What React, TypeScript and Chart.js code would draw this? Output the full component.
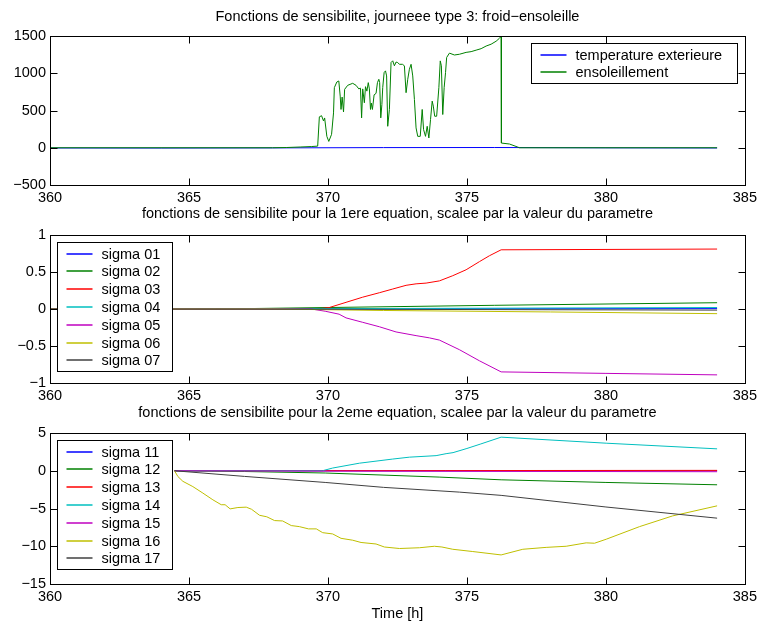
import React, { useEffect, useRef } from 'react';
import { Chart, registerables } from 'chart.js';
Chart.register(...registerables);

// ---------- Data ----------
const X_MIN = 360;
const X_MAX = 385;

// Top: outdoor temperature & solar radiation
const tempT = [360, 364, 368, 372, 376, 380, 384];
const tempV = [-3, -4, -2, 2, 3, -1, -3];

const ensT = [360, 368.0, 368.5, 369.0, 369.4, 369.63, 369.69, 369.77, 369.84, 369.88, 369.96, 370.03, 370.13, 370.2, 370.23, 370.32, 370.39, 370.44, 370.47, 370.51, 370.56, 370.6, 370.71, 370.89, 371.01, 371.11, 371.17, 371.21, 371.25, 371.31, 371.35, 371.4, 371.45, 371.49, 371.53, 371.56, 371.6, 371.66, 371.73, 371.78, 371.83, 371.86, 371.9, 371.94, 371.97, 372.02, 372.07, 372.11, 372.15, 372.21, 372.27, 372.33, 372.39, 372.45, 372.51, 372.57, 372.68, 372.75, 372.81, 372.87, 372.93, 372.99, 373.05, 373.11, 373.17, 373.23, 373.32, 373.39, 373.44, 373.51, 373.57, 373.63, 373.69, 373.75, 373.79, 373.84, 373.91, 373.99, 374.04, 374.08, 374.13, 374.18, 374.23, 374.27, 374.37, 374.55, 374.73, 374.97, 375.15, 375.33, 375.51, 375.69, 375.87, 376.05, 376.17, 376.23, 376.24, 376.53, 376.83, 376.89, 384];
const ensV = [0, 0, 3, 10, 16, 22, 415, 430, 360, 400, 153, 85, 180, 468, 807, 883, 896, 693, 514, 680, 480, 784, 838, 865, 838, 790, 800, 401, 790, 604, 820, 760, 874, 790, 514, 600, 514, 710, 730, 874, 919, 874, 401, 580, 807, 1009, 1032, 964, 288, 514, 1144, 1167, 1100, 1150, 1144, 1120, 1120, 1100, 739, 919, 1054, 1120, 964, 648, 266, 153, 153, 514, 243, 153, 288, 131, 378, 626, 559, 423, 423, 807, 1166, 1100, 446, 807, 1009, 1212, 1270, 1245, 1255, 1280, 1290, 1310, 1330, 1365, 1390, 1430, 1470, 1495, 63, 50, 9, 0, 0];

// Middle: sensitivities, equation 1
const s01T = [360, 370, 384];
const s01V = [0, 0.002, 0.005];
const s02T = [360, 366, 370, 376, 384];
const s02V = [0, 0, 0.02, 0.05, 0.085];
const s03T = [360, 369.6, 370.05, 370.65, 371.25, 371.85, 372.33, 372.81, 373.17, 373.53, 374.01, 374.49, 374.97, 375.45, 375.81, 376.23, 384];
const s03V = [0, 0, 0.02, 0.09, 0.16, 0.22, 0.27, 0.32, 0.34, 0.35, 0.38, 0.45, 0.53, 0.64, 0.72, 0.8, 0.81];
const s04T = [360, 370, 384];
const s04V = [0, 0.005, 0.02];
const s05T = [360, 369.4, 369.9, 370.4, 370.65, 371.25, 371.85, 372.45, 373.17, 373.65, 374.01, 374.73, 375.45, 376.23, 380, 384];
const s05V = [0, 0, -0.03, -0.07, -0.12, -0.18, -0.24, -0.31, -0.36, -0.39, -0.42, -0.55, -0.7, -0.85, -0.87, -0.89];
const s06T = [360, 368, 372, 378, 384];
const s06V = [0, 0, -0.02, -0.04, -0.063];
const s07T = [360, 370, 384];
const s07V = [0, -0.003, -0.015];

// Bottom: sensitivities, equation 2
const s11T = [364.48, 384];
const s11V = [0, 0];
const s12T = [364.48, 367, 369.9, 374, 376.23, 380, 384];
const s12V = [0, -0.1, -0.3, -0.84, -1.2, -1.55, -1.86];
const s13T = [364.48, 384];
const s13V = [0, 0.05];
const s14T = [364.48, 369.8, 370.17, 371.13, 372.33, 372.93, 373.89, 374.25, 374.5, 375.0, 375.5, 376.23, 380.01, 384];
const s14V = [0, 0, 0.36, 1.0, 1.55, 1.8, 2.0, 2.26, 2.4, 2.95, 3.55, 4.45, 3.65, 2.9];
const s15T = [364.48, 370, 384];
const s15V = [0, -0.05, -0.13];
const s16T = [364.48, 364.6, 364.78, 365.14, 365.5, 365.86, 366.16, 366.3, 366.48, 366.76, 367.06, 367.25, 367.54, 367.8, 368.08, 368.37, 368.68, 368.97, 369.3, 369.58, 369.81, 370.17, 370.47, 370.89, 371.19, 371.73, 372.03, 372.57, 373.29, 373.83, 374.1, 374.49, 375.21, 376.23, 377.01, 377.85, 378.57, 379.29, 379.59, 380.01, 381.21, 382.4, 384];
const s16V = [0, -0.76, -1.4, -2.1, -2.96, -3.85, -4.5, -4.5, -5.05, -4.87, -4.82, -5.1, -5.9, -6.1, -6.6, -6.65, -7.26, -7.4, -7.7, -7.7, -8.2, -8.37, -8.95, -9.2, -9.5, -9.7, -10.1, -10.3, -10.2, -10.0, -10.1, -10.4, -10.7, -11.15, -10.4, -10.15, -10.0, -9.55, -9.6, -9.07, -7.4, -5.98, -4.65];
const s17T = [364.48, 367, 369.9, 372, 374.73, 376.23, 380, 384];
const s17V = [0, -0.75, -1.55, -2.2, -2.83, -3.26, -4.8, -6.28];

// ---------- Style ----------
const COLORS = ['#0000ff', '#008000', '#ff0000', '#00bfbf', '#bf00bf', '#bfbf00', '#404040'];
const FONT_FAMILY = '"Liberation Sans", Arial, Helvetica, sans-serif';
const FONT_SIZE = 14.5;
const FONT = `${FONT_SIZE}px ${FONT_FAMILY}`;

const pts = (t: number[], v: number[]) => t.map((x, i) => ({ x, y: v[i] }));

const fmt = (v: number) => String(Math.round(v * 1000) / 1000).replace('-', '\u2212');

const matlabPlugin = {
  id: 'matlab',
  afterDraw(chart: any) {
    const o = chart.options.plugins.matlab;
    if (!o) return;
    const ctx = chart.ctx;
    const a = chart.chartArea;
    const L = Math.round(a.left) + 0.5;
    const R = Math.round(a.right) + 0.5;
    const T = Math.round(a.top) + 0.5;
    const B = Math.round(a.bottom) + 0.5;
    ctx.save();
    // legend
    const lg = o.legend;
    const items: { label: string; color: string }[] = lg.items;
    const rowH = 17.8;
    const h = Math.round(22 + (items.length - 1) * rowH);
    const lx = Math.round(lg.side === 'right' ? a.right - 8 - lg.width : a.left + 7) + 0.5;
    const ly = Math.round(a.top + 7) + 0.5;
    ctx.fillStyle = '#ffffff';
    ctx.fillRect(lx, ly, lg.width, h);
    ctx.strokeStyle = '#000000';
    ctx.lineWidth = 1;
    ctx.strokeRect(lx, ly, lg.width, h);
    ctx.font = FONT;
    ctx.textAlign = 'left';
    ctx.textBaseline = 'middle';
    items.forEach((it, i) => {
      const y = Math.round(ly + 11 + i * rowH);
      ctx.beginPath();
      ctx.strokeStyle = it.color;
      ctx.lineWidth = 1.5;
      ctx.moveTo(lx + 9, y);
      ctx.lineTo(lx + 35, y);
      ctx.stroke();
      ctx.fillStyle = '#000000';
      ctx.fillText(it.label, lx + 44, y + 0.5);
    });
    // axes box
    ctx.strokeStyle = '#000000';
    ctx.lineWidth = 1;
    ctx.strokeRect(L, T, R - L, B - T);
    const xs = chart.scales.x;
    const ys = chart.scales.y;
    const TL = 7;
    ctx.beginPath();
    xs.ticks.forEach((t: any) => {
      const px = Math.round(xs.getPixelForValue(t.value)) + 0.5;
      ctx.moveTo(px, B);
      ctx.lineTo(px, B - TL);
      ctx.moveTo(px, T);
      ctx.lineTo(px, T + TL);
    });
    ys.ticks.forEach((t: any) => {
      const py = Math.round(ys.getPixelForValue(t.value)) + 0.5;
      ctx.moveTo(L, py);
      ctx.lineTo(L + TL, py);
      ctx.moveTo(R, py);
      ctx.lineTo(R - TL, py);
    });
    ctx.stroke();
    // titles
    ctx.fillStyle = '#000000';
    ctx.font = FONT;
    ctx.textAlign = 'center';
    ctx.textBaseline = 'middle';
    const cx = (a.left + a.right) / 2;
    ctx.fillText(o.title, cx, a.top - o.titleOffset);
    if (o.xlabel) ctx.fillText(o.xlabel, cx, a.bottom + 30);
    ctx.restore();
  },
};

type Series = { label: string; t: number[]; v: number[]; color: string };

function makeConfig(series: Series[], yMin: number, yMax: number, yStep: number, padBottom: number, title: string, titleOffset: number, legendSide: string, legendWidth: number, xlabel?: string): any {
  const n = series.length;
  return {
    type: 'line',
    data: {
      datasets: series.map((s, i) => ({
        label: s.label,
        data: pts(s.t, s.v),
        borderColor: s.color,
        backgroundColor: s.color,
        borderWidth: 1,
        pointRadius: 0,
        tension: 0,
        fill: false,
        order: n - i,
      })),
    },
    options: {
      responsive: false,
      animation: false,
      events: [],
      layout: { padding: { top: 36, left: 0, right: 16, bottom: padBottom } },
      plugins: {
        legend: { display: false },
        title: { display: false },
        tooltip: { enabled: false },
        matlab: {
          title,
          titleOffset,
          xlabel,
          legend: { side: legendSide, width: legendWidth, items: series.map((s) => ({ label: s.label, color: s.color })) },
        },
      },
      scales: {
        x: {
          type: 'linear',
          min: X_MIN,
          max: X_MAX,
          grid: { display: false, drawTicks: false },
          border: { display: false },
          ticks: { stepSize: 5, padding: 4, color: '#000', font: { family: FONT_FAMILY, size: FONT_SIZE }, maxRotation: 0, autoSkip: false, callback: (v: number) => fmt(v) },
          afterFit: (s: any) => { s.height = 25; },
        },
        y: {
          type: 'linear',
          min: yMin,
          max: yMax,
          grid: { display: false, drawTicks: false },
          border: { display: false },
          ticks: { stepSize: yStep, padding: 4, color: '#000', font: { family: FONT_FAMILY, size: FONT_SIZE }, autoSkip: false, callback: (v: number) => fmt(v) },
          afterFit: (s: any) => { s.width = 50; },
        },
      },
    },
    plugins: [matlabPlugin],
  };
}

const topSeries: Series[] = [
  { label: 'temperature exterieure', t: tempT, v: tempV, color: COLORS[0] },
  { label: 'ensoleillement', t: ensT, v: ensV, color: COLORS[1] },
];
const midSeries: Series[] = [
  { label: 'sigma 01', t: s01T, v: s01V, color: COLORS[0] },
  { label: 'sigma 02', t: s02T, v: s02V, color: COLORS[1] },
  { label: 'sigma 03', t: s03T, v: s03V, color: COLORS[2] },
  { label: 'sigma 04', t: s04T, v: s04V, color: COLORS[3] },
  { label: 'sigma 05', t: s05T, v: s05V, color: COLORS[4] },
  { label: 'sigma 06', t: s06T, v: s06V, color: COLORS[5] },
  { label: 'sigma 07', t: s07T, v: s07V, color: COLORS[6] },
];
const botSeries: Series[] = [
  { label: 'sigma 11', t: s11T, v: s11V, color: COLORS[0] },
  { label: 'sigma 12', t: s12T, v: s12V, color: COLORS[1] },
  { label: 'sigma 13', t: s13T, v: s13V, color: COLORS[2] },
  { label: 'sigma 14', t: s14T, v: s14V, color: COLORS[3] },
  { label: 'sigma 15', t: s15T, v: s15V, color: COLORS[4] },
  { label: 'sigma 16', t: s16T, v: s16V, color: COLORS[5] },
  { label: 'sigma 17', t: s17T, v: s17V, color: COLORS[6] },
];

function Panel({ top, height, config }: { top: number; height: number; config: any }) {
  const ref = useRef<HTMLCanvasElement>(null);
  useEffect(() => {
    if (!ref.current) return;
    const chart = new Chart(ref.current, config);
    return () => chart.destroy();
  }, []);
  return (
    <canvas
      ref={ref}
      width={761}
      height={height}
      style={{ position: 'absolute', left: 0, top, width: 761, height }}
    />
  );
}

export default function App() {
  return (
    <div style={{ position: 'fixed', left: 0, top: 0, width: 761, height: 629, background: '#fff', overflow: 'hidden' }}>
      <Panel top={0} height={210} config={makeConfig(topSeries, -500, 1500, 500, 0, 'Fonctions de sensibilite, journeee type 3: froid\u2212ensoleille', 19, 'right', 206)} />
      <Panel top={199} height={209} config={makeConfig(midSeries, -1, 1, 0.5, 0, 'fonctions de sensibilite pour la 1ere equation, scalee par la valeur du parametre', 21, 'left', 115)} />
      <Panel top={397} height={232} config={makeConfig(botSeries, -15, 5, 5, 20, 'fonctions de sensibilite pour la 2eme equation, scalee par la valeur du parametre', 20, 'left', 115, 'Time [h]')} />
    </div>
  );
}
